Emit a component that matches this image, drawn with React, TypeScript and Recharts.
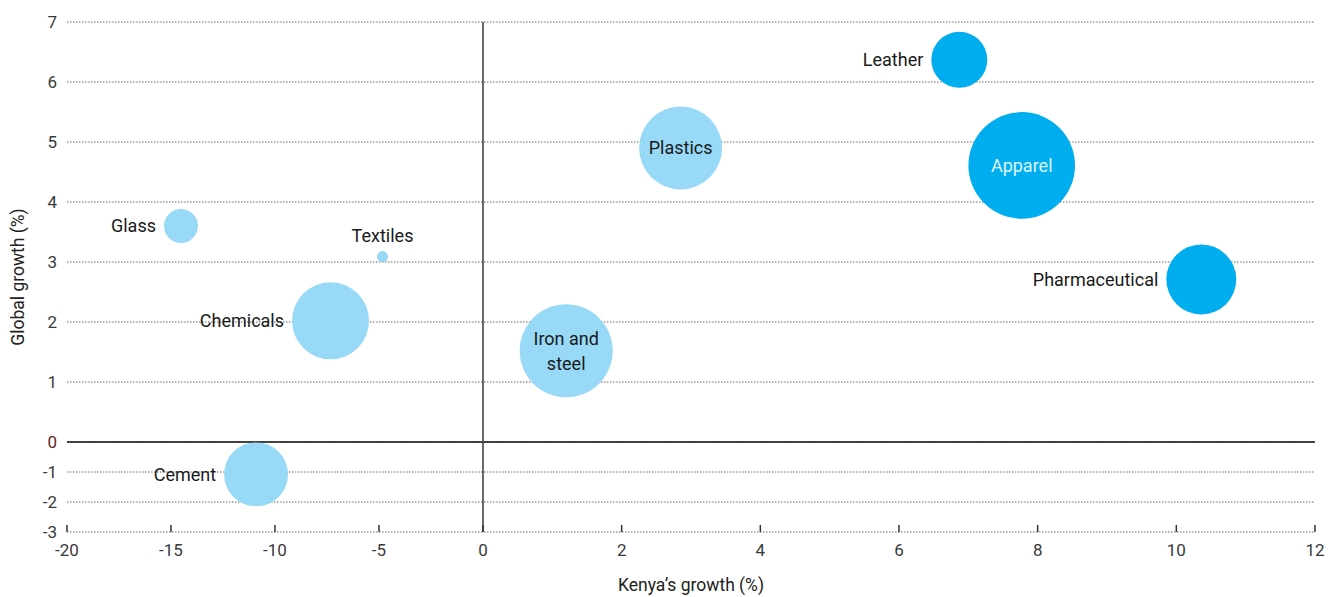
import {
  ScatterChart,
  Scatter,
  XAxis,
  YAxis,
  ZAxis,
  CartesianGrid,
  ReferenceLine,
} from "recharts";

const SECTORS = [
  "Leather",
  "Apparel",
  "Pharmaceutical",
  "Plastics",
  "Iron and steel",
  "Chemicals",
  "Glass",
  "Textiles",
  "Cement",
];
const KENYA_GROWTH = [6.87, 7.77, 10.36, 2.85, 1.2, -7.33, -14.52, -4.83, -10.91];
const GLOBAL_GROWTH = [6.37, 4.61, 2.71, 4.9, 1.52, 2.02, 3.6, 3.09, -1.08];
const BUBBLE_SIZE = [21.8, 78.9, 34, 47.8, 60.1, 41.2, 8, 0.84, 28.4];
const GROUP = [
  "priority",
  "priority",
  "priority",
  "other",
  "other",
  "other",
  "other",
  "other",
  "other",
];

const X_TICKS = [-20, -15, -10, -5, 0, 2, 4, 6, 8, 10, 12];
const Y_TICKS = [7, 6, 5, 4, 3, 2, 1, 0, -1, -2, -3];

const FONT = "Roboto, sans-serif";

const COLORS: Record<string, string> = {
  priority: "#00aeef",
  other: "#97d9f6",
};

// where each sector's name sits relative to its bubble
const LABEL_PLACE: Record<string, string> = {
  Leather: "left",
  Apparel: "inside-light",
  Pharmaceutical: "left",
  Plastics: "inside",
  "Iron and steel": "inside",
  Chemicals: "left",
  Glass: "left",
  Textiles: "above",
  Cement: "left",
};

// The axes are broken: negatives are compressed relative to positives
const toX = (v: number) => (v < 0 ? v : (v * 10) / 3);
const fromX = (t: number) => (t < 0 ? t : (t * 3) / 10);
const toY = (v: number) => (v < 0 ? v / 2 : v);
const fromY = (t: number) => (t < 0 ? t * 2 : t);

const data = SECTORS.map((name, i) => ({
  name,
  x: toX(KENYA_GROWTH[i]),
  y: toY(GLOBAL_GROWTH[i]),
  z: BUBBLE_SIZE[i],
  group: GROUP[i],
}));

const Bubble = (props: any) => {
  const { cx, cy, size, payload } = props;
  const r = Math.sqrt(size / Math.PI);
  const place = LABEL_PLACE[payload.name] ?? "left";
  const textProps = {
    fontFamily: FONT,
    fontSize: 18,
    fill: "#1a1a1a",
  };
  let label: any = null;
  if (place === "left") {
    label = (
      <text {...textProps} x={cx - r - 8} y={cy} dy="0.36em" textAnchor="end">
        {payload.name}
      </text>
    );
  } else if (place === "above") {
    label = (
      <text {...textProps} x={cx} y={cy - 21} dy="0.36em" textAnchor="middle">
        {payload.name}
      </text>
    );
  } else {
    const lines =
      payload.name === "Iron and steel" ? ["Iron and", "steel"] : [payload.name];
    const fill = place === "inside-light" ? "#dff4fc" : "#1a1a1a";
    label = (
      <text {...textProps} fill={fill} textAnchor="middle">
        {lines.map((l, i) => (
          <tspan
            key={l}
            x={cx}
            y={cy + (i - (lines.length - 1) / 2) * 25}
            dy="0.36em"
          >
            {l}
          </tspan>
        ))}
      </text>
    );
  }
  return (
    <g>
      <circle cx={cx} cy={cy} r={r} fill={COLORS[payload.group]} />
      {label}
    </g>
  );
};

const XTick = ({ x, y, payload }: any) => (
  <g>
    <line x1={x} x2={x} y1={y} y2={y - 7} stroke="#333" strokeWidth={1.5} />
    <text
      x={x}
      y={y + 18}
      dy="0.36em"
      textAnchor="middle"
      fontFamily={FONT}
      fontSize={17}
      fill="#3a3a3a"
    >
      {Math.round(fromX(payload.value))}
    </text>
  </g>
);

const YTick = ({ x, y, payload }: any) => {
  const v = Math.round(fromY(payload.value));
  return (
    <text
      x={x}
      y={y}
      dy="0.36em"
      textAnchor="end"
      fontFamily={FONT}
      fontSize={17}
      fill={v === 0 ? "#5e1f1f" : "#3a3a3a"}
    >
      {v}
    </text>
  );
};

const App = () => {
  return (
    <div style={{ position: "absolute", left: 0, top: 0, fontFamily: FONT }}>
      <ScatterChart
        width={1336}
        height={597}
        margin={{ top: 22, right: 21, left: 0, bottom: 0 }}
      >
        <CartesianGrid
          vertical={false}
          stroke="#666"
          strokeDasharray="1.5 1.5"
        />
        <XAxis
          type="number"
          dataKey="x"
          domain={[-20, 40]}
          ticks={X_TICKS.map(toX)}
          height={65}
          axisLine={false}
          tickLine={false}
          tickSize={0}
          tickMargin={0}
          tick={<XTick />}
          interval={0}
          label={{
            value: "Kenya’s growth (%)",
            position: "insideBottom",
            offset: 6,
            fontSize: 17.5,
            fill: "#222",
            fontFamily: FONT,
          }}
        />
        <YAxis
          type="number"
          dataKey="y"
          domain={[-1.5, 7]}
          ticks={Y_TICKS.map(toY)}
          width={67}
          axisLine={false}
          tickLine={false}
          tickSize={0}
          tickMargin={10}
          tick={<YTick />}
          interval={0}
          label={{
            value: "Global growth (%)",
            angle: -90,
            position: "insideLeft",
            offset: 18,
            fontSize: 17.5,
            fill: "#222",
            fontFamily: FONT,
            style: { textAnchor: "middle" },
          }}
        />
        <ZAxis type="number" dataKey="z" domain={[0, 100]} range={[0, Math.PI * 3600]} />
        <ReferenceLine y={0} stroke="#111" strokeWidth={1.6} />
        <ReferenceLine x={0} stroke="#444" strokeWidth={1.6} />
        <Scatter data={data} shape={<Bubble />} isAnimationActive={false} />
      </ScatterChart>
    </div>
  );
};

export default App;
